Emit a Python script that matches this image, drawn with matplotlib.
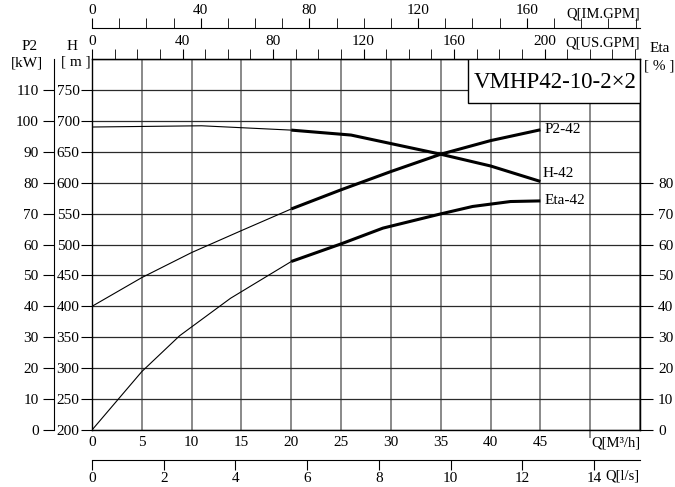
import numpy as np
import matplotlib
matplotlib.use("Agg")
import matplotlib.pyplot as plt
from matplotlib.patches import Rectangle

plt.rcParams['font.family'] = ['Liberation Serif', 'DejaVu Serif']
plt.rcParams['font.size'] = 11

# pump curve VMHP42-10-2x2, flow in m3/h
q_h = [0, 11, 20, 26, 35, 40, 45]
head = [690, 692, 685, 677, 646, 627, 602]          # m

q_p2 = [0, 5, 10, 15, 20, 25, 30, 35, 40, 45]
p2 = [40, 49.3, 57.4, 64.5, 71.5, 77.7, 83.6, 89.2, 93.6, 97.1]   # kW

q_eta = [0, 5, 8.8, 13.9, 20, 25, 29.2, 35, 38.2, 42, 45]
eta = [0, 18.9, 30.5, 42.6, 54.5, 60.2, 65.3, 69.9, 72.3, 73.9, 74.1]  # %

q_ticks = [0, 5, 10, 15, 20, 25, 30, 35, 40, 45]
h_ticks = list(range(200, 751, 50))
p2_ticks = list(range(0, 111, 10))
eta_ticks = list(range(0, 81, 10))
ls_ticks = list(range(0, 15, 2))
us_ticks = list(range(0, 201, 40))
im_ticks = list(range(0, 161, 40))

duty_start = 20  # thick line from here on

US = 4.402868   # US gpm per m3/h
IM = 3.666154   # imp gpm per m3/h
LS = 3.6        # m3/h per l/s

fig = plt.figure(figsize=(6.75, 4.87), dpi=100)
ax = fig.add_axes([92/675, 57/487, 548/675, 371/487])
ax.set_xlim(0, 55)
ax.set_ylim(200, 800)

# grid
for x in np.arange(0, 56, 5):
    ax.axvline(x, color='#6a6a6a', lw=1.1, zorder=1)
for y in np.arange(200, 801, 50):
    ax.axhline(y, color='#2a2a2a', lw=0.9, zorder=1)

for s in ax.spines.values():
    s.set_linewidth(1.0)

ax.set_xticks(q_ticks)
ax.set_xticklabels([str(v) for v in q_ticks])
ax.set_xticks([50], minor=True)
ax.tick_params(axis='x', which='major', length=0, pad=4)
ax.tick_params(axis='x', which='minor', length=6, direction='out', width=1.1, color='#6a6a6a')
ax.set_yticks(h_ticks)
ax.tick_params(axis='y', length=8, direction='out', pad=1)

# P2 and Eta share the same pixel scale: value = (H - 200) / 5
def to_h(v):
    return 200 + 5 * np.asarray(v, dtype=float)

def draw_curve(q, v):
    q = np.asarray(q, dtype=float)
    v = np.asarray(v, dtype=float)
    thin = q <= duty_start
    thick = q >= duty_start
    ax.plot(q[thin], v[thin], color='black', lw=0.8, zorder=3)
    ax.plot(q[thick], v[thick], color='black', lw=2.2, zorder=3, solid_capstyle='butt')

draw_curve(q_h, head)
draw_curve(q_p2, to_h(p2))
draw_curve(q_eta, to_h(eta))

ax.text(q_p2[-1] + 0.4, to_h(p2)[-1], 'P2-42', ha='left', va='center', fontsize=11)
ax.text(q_h[-1] + 0.2, head[-1] + 3, 'H-42', ha='left', va='bottom', fontsize=11)
ax.text(q_eta[-1] + 0.4, to_h(eta)[-1], 'Eta-42', ha='left', va='center', fontsize=11)

# P2 axis on the far left
ax_p2 = ax.twinx()
ax_p2.set_ylim(0, 120)
ax_p2.spines['left'].set_position(('axes', -38/548))
ax_p2.spines['left'].set_visible(True)
ax_p2.spines['right'].set_visible(False)
ax_p2.spines['top'].set_visible(False)
ax_p2.spines['bottom'].set_visible(False)
ax_p2.yaxis.set_ticks_position('left')
ax_p2.set_yticks(p2_ticks)
ax_p2.tick_params(axis='y', length=8, direction='out', pad=3)

# Eta axis on the right
ax_eta = ax.twinx()
ax_eta.set_ylim(0, 120)
for k in ['left', 'top', 'bottom']:
    ax_eta.spines[k].set_visible(False)
ax_eta.set_yticks(eta_ticks)
ax_eta.tick_params(axis='y', length=9, direction='out', pad=4)

# US gpm on the top frame
ax_us = ax.secondary_xaxis('top', functions=(lambda x: x * US, lambda x: x / US))
ax_us.set_xticks(us_ticks)
ax_us.set_xticks(range(0, 241, 10), minor=True)
ax_us.tick_params(which='both', length=7, direction='out', pad=1)

# Imperial gpm further up
ax_im = ax.secondary_xaxis(402/371, functions=(lambda x: x * IM, lambda x: x / IM))
ax_im.set_xticks(im_ticks)
ax_im.set_xticks(range(0, 201, 10), minor=True)
ax_im.tick_params(which='both', length=7, direction='out', pad=1)

# l/s below
ax_ls = ax.secondary_xaxis(-30/371, functions=(lambda x: x / LS, lambda x: x * LS))
ax_ls.set_xticks(ls_ticks)
ax_ls.tick_params(which='both', length=7, direction='out', pad=2)

# model box
ax.add_patch(Rectangle((376/548, 327/371), 172/548, 44/371, transform=ax.transAxes,
                       facecolor='white', edgecolor='black', lw=1.0, zorder=5))
ax.text(463/548, 348/371, 'VMHP42-10-2×2', transform=ax.transAxes, ha='center',
        va='center', fontsize=16.5, zorder=6)

# axis titles
fig.text(30/675, 1 - 46/487, 'P2', ha='center', va='center', fontsize=11)
fig.text(27/675, 1 - 63/487, '[kW]', ha='center', va='center', fontsize=11)
fig.text(72/675, 1 - 46/487, 'H', ha='center', va='center', fontsize=11)
fig.text(76/675, 1 - 62/487, '[ m ]', ha='center', va='center', fontsize=11)
fig.text(660/675, 1 - 48/487, 'Eta', ha='center', va='center', fontsize=11)
fig.text(659/675, 1 - 66/487, '[ % ]', ha='center', va='center', fontsize=11)
fig.text(640/675, 1 - 14/487, 'Q[IM.GPM]', ha='right', va='center', fontsize=10.5)
fig.text(640/675, 1 - 43/487, 'Q[US.GPM]', ha='right', va='center', fontsize=10.5)
fig.text(640/675, 1 - 443/487, 'Q[M³/h]', ha='right', va='center', fontsize=10.5)
fig.text(640/675, 1 - 476/487, 'Q[l/s]', ha='right', va='center', fontsize=10.5)

fig.savefig('out.png', dpi=100)
